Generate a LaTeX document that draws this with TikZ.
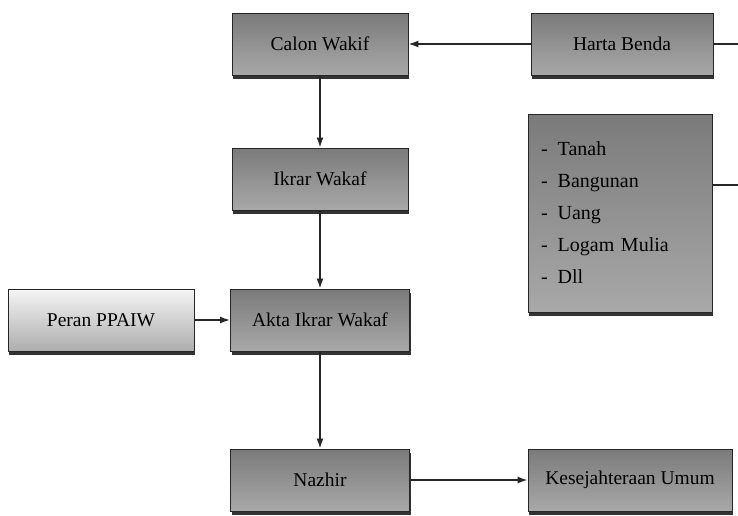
\documentclass[tikz,border=0pt]{standalone}
\usepackage{fontspec}
\setmainfont{Liberation Serif}
\usetikzlibrary{shadows,arrows.meta}
\begin{document}
\begin{tikzpicture}[x=1pt,y=-1pt,
    kotak/.style={rectangle,draw=black!85,line width=0.8pt,top color=black!52,bottom color=black!34,
        minimum height=62pt,font=\fontsize{19.5}{22}\selectfont,
        drop shadow={shadow xshift=1pt,shadow yshift=-3.5pt,opacity=1,fill=black!80}},
    terang/.style={kotak,top color=black!4,bottom color=black!32},
    garis/.style={line width=1.6pt,black!85},
    panah/.style={garis,-{Latex[length=10pt,width=7pt]}}]
    \useasboundingbox (0,0) rectangle (738,515);
    \node[kotak,minimum width=176pt] (calon) at (320,44) {Calon Wakif};
    \node[kotak,minimum width=182pt] (harta) at (622,44) {Harta Benda};
    \node[kotak,minimum width=176pt] (ikrar) at (320,179) {Ikrar Wakaf};
    \node[kotak,minimum width=184pt,minimum height=198pt,text width=158pt,align=left,
        font=\fontsize{20}{32}\selectfont] (jenis) at (620,213)
        {-\hspace{10pt}Tanah\\ -\hspace{10pt}Bangunan\\ -\hspace{10pt}Uang\\ -\hspace{10pt}Logam Mulia\\ -\hspace{10pt}Dll\\[6pt]};
    \node[terang,minimum width=186pt] (peran) at (101,320) {Peran PPAIW};
    \node[kotak,minimum width=179pt] (akta) at (320,320) {Akta Ikrar Wakaf};
    \node[kotak,minimum width=179pt] (nazhir) at (320,480) {Nazhir};
    \node[kotak,minimum width=204pt] (umum) at (630,480) {Kesejahteraan Umum};
    % ujung garis keluar ke kanan
    \coordinate (ujung1) at (738,44);
    \coordinate (ujung2) at (738,185);
    \draw[panah] (harta) -- (calon);
    \draw[panah] (calon) -- (ikrar);
    \draw[panah] (ikrar) -- (akta);
    \draw[panah] (peran) -- (akta);
    \draw[panah] (akta) -- (nazhir);
    \draw[panah] (nazhir) -- (umum);
    \draw[garis] (harta.east) -- (ujung1);
    \draw[garis] (jenis.east |- ujung2) -- (ujung2);
\end{tikzpicture}
\end{document}
